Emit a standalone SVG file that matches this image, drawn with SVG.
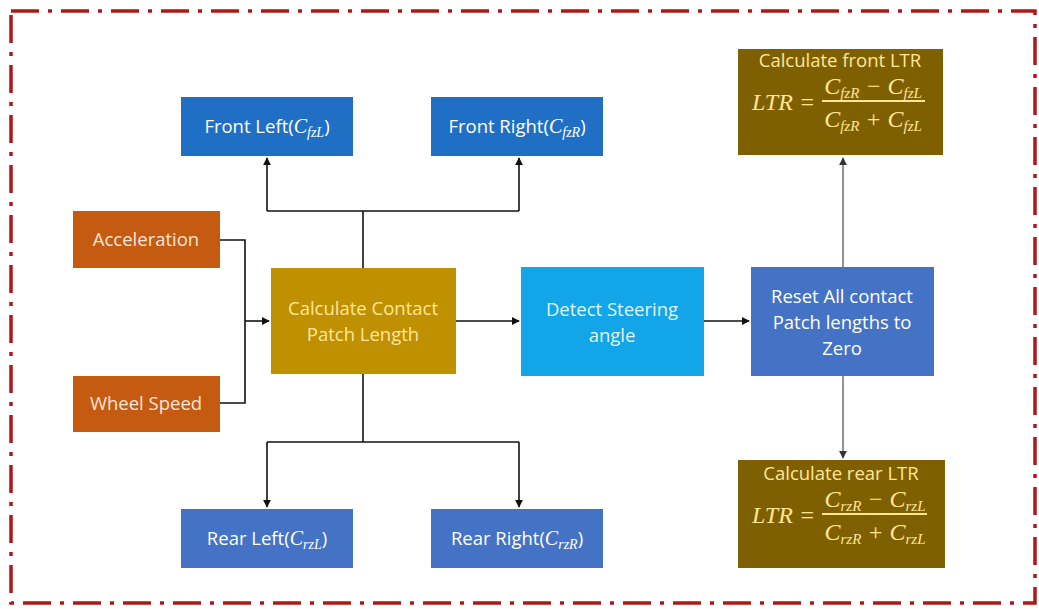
<svg xmlns="http://www.w3.org/2000/svg" width="1039" height="609" viewBox="0 0 1039 609">
<defs>
<marker id="ah" viewBox="0 0 10 10" refX="9" refY="5" markerWidth="5" markerHeight="5" orient="auto-start-reverse"><path d="M0,0 L10,5 L0,10 z" fill="#111"/></marker>
<marker id="ahg" viewBox="0 0 10 10" refX="9" refY="5" markerWidth="5" markerHeight="5" orient="auto-start-reverse"><path d="M0,0 L10,5 L0,10 z" fill="#333"/></marker>
</defs>
<style>
.t{font-family:"Open Sans","Liberation Sans",sans-serif;font-size:18.5px;text-anchor:middle;}
.w{fill:#ffffff;}
.y{fill:#FFE699;}
.o{fill:#FBE5D6;}
.m{font-family:"Liberation Serif",serif;font-style:italic;font-size:24px;fill:#FFE699;}
.s{font-size:15px;}
.ci{font-family:"Liberation Serif",serif;font-style:italic;font-size:20px;}
.cs{font-family:"Liberation Serif",serif;font-style:italic;font-size:14px;}
.ln{fill:none;stroke:#111;stroke-width:1.6;}
.lg{fill:none;stroke:#777;stroke-width:1.6;}
</style>
<rect width="1039" height="609" fill="#ffffff"/>
<rect x="11" y="11" width="1024" height="592" fill="none" stroke="#B01818" stroke-width="3.5" stroke-dasharray="28,9,4,9"/>

<g id="connectors">
<path class="ln" d="M220,240 H245 V403 H220"/>
<path class="ln" d="M245,321 H269" marker-end="url(#ah)"/>
<path class="ln" d="M363,268 V211"/>
<path class="ln" d="M267,211 H519"/>
<path class="ln" d="M267,211 V158" marker-end="url(#ah)"/>
<path class="ln" d="M519,211 V158" marker-end="url(#ah)"/>
<path class="ln" d="M363,374 V442"/>
<path class="ln" d="M267,442 H519"/>
<path class="ln" d="M267,442 V507" marker-end="url(#ah)"/>
<path class="ln" d="M519,442 V507" marker-end="url(#ah)"/>
<path class="ln" d="M456,321 H519" marker-end="url(#ah)"/>
<path class="ln" d="M704,321 H749" marker-end="url(#ah)"/>
<path class="lg" d="M843,267 V158" marker-end="url(#ahg)"/>
<path class="lg" d="M843,376 V458" marker-end="url(#ahg)"/>
</g>

<g id="front-left">
<rect x="181" y="97" width="172" height="59" fill="#1F6FC5"/>
<text class="t w" x="267" y="133">Front Left(<tspan class="ci">C</tspan><tspan class="cs" dy="4">fzL</tspan><tspan dy="-4">)</tspan></text>
</g>
<g id="front-right">
<rect x="431" y="97" width="172" height="59" fill="#1F6FC5"/>
<text class="t w" x="517" y="133">Front Right(<tspan class="ci">C</tspan><tspan class="cs" dy="4">fzR</tspan><tspan dy="-4">)</tspan></text>
</g>
<g id="rear-left">
<rect x="181" y="509" width="172" height="59" fill="#4472C4"/>
<text class="t w" x="267" y="545">Rear Left(<tspan class="ci">C</tspan><tspan class="cs" dy="4">rzL</tspan><tspan dy="-4">)</tspan></text>
</g>
<g id="rear-right">
<rect x="431" y="509" width="172" height="59" fill="#4472C4"/>
<text class="t w" x="517" y="545">Rear Right(<tspan class="ci">C</tspan><tspan class="cs" dy="4">rzR</tspan><tspan dy="-4">)</tspan></text>
</g>
<g id="acceleration">
<rect x="73" y="211" width="147" height="57" fill="#C55A11"/>
<text class="t o" x="146" y="246">Acceleration</text>
</g>
<g id="wheel-speed">
<rect x="73" y="376" width="147" height="56" fill="#C55A11"/>
<text class="t o" x="146" y="410">Wheel Speed</text>
</g>
<g id="contact-patch">
<rect x="271" y="268" width="185" height="106" fill="#BF9000"/>
<text class="t y" x="363" y="315">Calculate Contact</text>
<text class="t y" x="363" y="341">Patch Length</text>
</g>
<g id="steering">
<rect x="521" y="267" width="183" height="109" fill="#12A6E8"/>
<text class="t w" x="612" y="316" fill-opacity="0.9">Detect Steering</text>
<text class="t w" x="612" y="342" fill-opacity="0.9">angle</text>
</g>
<g id="reset">
<rect x="751" y="267" width="183" height="109" fill="#4472C4"/>
<text class="t w" x="842" y="303">Reset All contact</text>
<text class="t w" x="842" y="329">Patch lengths to</text>
<text class="t w" x="842" y="355">Zero</text>
</g>
<g id="front-ltr">
<rect x="738" y="49" width="205" height="106" fill="#7F6000"/>
<text class="t y" x="840" y="67">Calculate front LTR</text>
<text class="m" x="752" y="110">LTR =</text>
<text class="m" x="873" y="94" text-anchor="middle">C<tspan class="s" dy="4">fzR</tspan><tspan dy="-4"> − C</tspan><tspan class="s" dy="4">fzL</tspan></text>
<line x1="822" y1="101" x2="925" y2="101" stroke="#FFE699" stroke-width="1.8"/>
<text class="m" x="873" y="127" text-anchor="middle">C<tspan class="s" dy="4">fzR</tspan><tspan dy="-4"> + C</tspan><tspan class="s" dy="4">fzL</tspan></text>
</g>
<g id="rear-ltr">
<rect x="738" y="460" width="207" height="108" fill="#7F6000"/>
<text class="t y" x="841" y="480">Calculate rear LTR</text>
<text class="m" x="752" y="523">LTR =</text>
<text class="m" x="875" y="507" text-anchor="middle">C<tspan class="s" dy="4">rzR</tspan><tspan dy="-4"> − C</tspan><tspan class="s" dy="4">rzL</tspan></text>
<line x1="822" y1="514" x2="927" y2="514" stroke="#FFE699" stroke-width="1.8"/>
<text class="m" x="875" y="540" text-anchor="middle">C<tspan class="s" dy="4">rzR</tspan><tspan dy="-4"> + C</tspan><tspan class="s" dy="4">rzL</tspan></text>
</g>
</svg>
